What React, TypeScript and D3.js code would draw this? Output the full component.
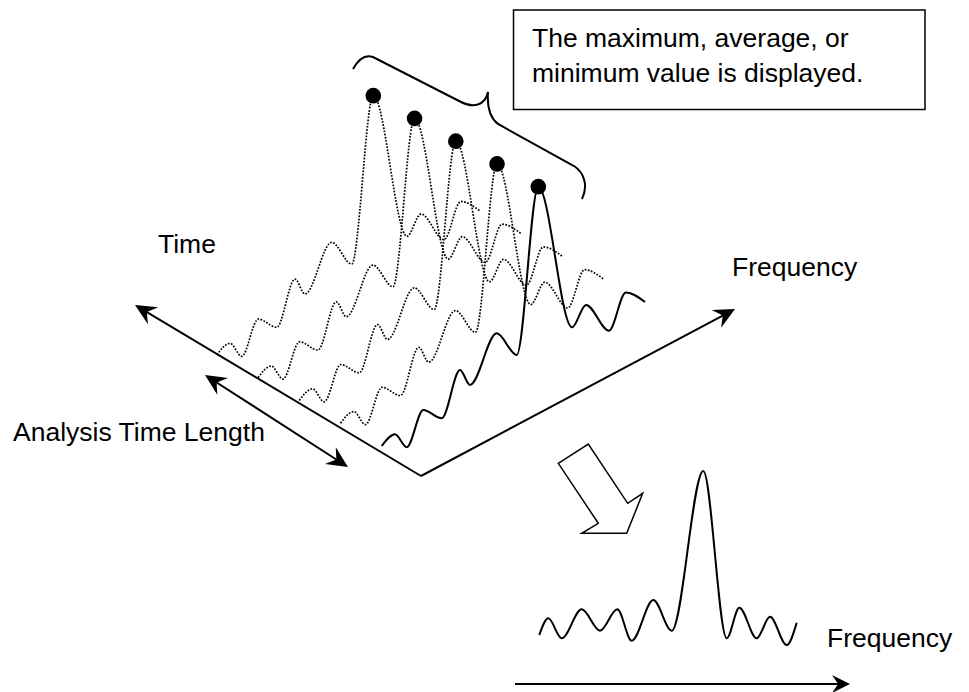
import { curveMonotoneX, line as d3Line, scaleLinear, maxIndex } from "d3"

// one analysis frame (same shape repeated along the time axis)
const frameFreq = [0, 1.33, 2.5, 4.16, 6.0, 7.83, 8.83, 11.5, 13.5, 15.66, 19.03, 20.43, 22.73, 24.41, 26.33]
const frameLevel = [1.6, 2.04, 0.11, 2.93, 1.1, 4.93, 2.89, 6.6, 3.34, 19.0, 3.1, 4.57, 0.74, 3.65, 1.65]
const frameTimes = [4, 3, 2, 1, 0] // back to front, 0 = latest (solid)

// displayed result spectrum
const resultFreq = [0, 0.9, 2.24, 4.24, 6.07, 7.8, 9.24, 11.4, 13.24, 16.4, 18.74, 20.0, 21.74, 23.07, 24.74, 25.74]
const resultLevel = [1.0, 2.67, 0.67, 3.57, 1.43, 3.57, 0.43, 4.5, 1.43, 17.4, 0.67, 3.73, 0.67, 2.83, 0, 2.23]

const W = 969
const H = 692
const font = "'Liberation Sans', Arial, Helvetica, sans-serif"

// waterfall projection
const fx = scaleLinear().domain([0, 26.33]).range([381.7, 645])
const fBase = scaleLinear().domain([0, 26.33]).range([462, 318.5])
const lvl = scaleLinear().domain([0, 19]).range([0, 190])
const tx = scaleLinear().domain([0, 4]).range([0, -165])
const ty = scaleLinear().domain([0, 4]).range([0, -91])

// result spectrum
const rx = scaleLinear().domain([0, 25.74]).range([539.3, 796.7])
const ry = scaleLinear().domain([0, 17.4]).range([645, 471])

const origin = { x: 421, y: 476 }

function arrowHead(x1: number, y1: number, x2: number, y2: number, len = 21, half = 10, notch = 14) {
  const dx = x2 - x1
  const dy = y2 - y1
  const L = Math.hypot(dx, dy)
  const ux = dx / L
  const uy = dy / L
  const px = -uy
  const py = ux
  const bx = x2 - ux * len
  const by = y2 - uy * len
  const nx = x2 - ux * notch
  const ny = y2 - uy * notch
  return {
    head: `M${x2},${y2}L${bx + px * half},${by + py * half}L${nx},${ny}L${bx - px * half},${by - py * half}Z`,
    nx,
    ny,
  }
}

function Arrow({ x1, y1, x2, y2, both = false, len = 21, half = 10 }: { x1: number; y1: number; x2: number; y2: number; both?: boolean; len?: number; half?: number }) {
  const end = arrowHead(x1, y1, x2, y2, len, half, len * 0.66)
  const start = both ? arrowHead(x2, y2, x1, y1, len, half, len * 0.66) : null
  return (
    <g>
      <line x1={start ? start.nx : x1} y1={start ? start.ny : y1} x2={end.nx} y2={end.ny} stroke="#000" strokeWidth={2} />
      <path d={end.head} fill="#000" />
      {start && <path d={start.head} fill="#000" />}
    </g>
  )
}

export default function App() {
  const framePts = frameFreq.map((f, i) => ({ f, l: frameLevel[i] }))
  const peakIdx = maxIndex(frameLevel)

  const frameLine = (t: number) =>
    d3Line<{ f: number; l: number }>()
      .x((d) => fx(d.f) + tx(t))
      .y((d) => fBase(d.f) - lvl(d.l) + ty(t))
      .curve(curveMonotoneX)(framePts) ?? ""

  const resultPath =
    d3Line<number>()
      .x((d) => rx(d))
      .y((_, i) => ry(resultLevel[i]))
      .curve(curveMonotoneX)(resultFreq) ?? ""

  const textProps = { fontFamily: font, fontSize: 26.5, fill: "#000" }

  return (
    <svg width={W} height={H} viewBox={`0 0 ${W} ${H}`} style={{ position: "absolute", left: 0, top: 0, background: "#fff" }}>
      <rect width={W} height={H} fill="#fff" />

      {/* note box */}
      <rect x={513.5} y={10} width={411.5} height={99.5} fill="#fff" stroke="#000" strokeWidth={1.5} />
      <text x={532} y={47} {...textProps}>The maximum, average, or</text>
      <text x={532} y={82} {...textProps}>minimum value is displayed.</text>

      {/* brace */}
      <path
        d="M353,69 C358,60 364,54 373,57 L461,102 C473,108 485,106 488,92 C487,106 489,117 498,124 L574,166 C585,173 588,187 582,199"
        fill="none"
        stroke="#000"
        strokeWidth={2}
      />

      {/* axes */}
      <Arrow x1={origin.x} y1={origin.y} x2={135} y2={305} />
      <Arrow x1={origin.x} y1={origin.y} x2={735} y2={309} />
      <Arrow x1={205} y1={375} x2={348} y2={467} both />

      <text x={158} y={253} {...textProps}>Time</text>
      <text x={732} y={276} {...textProps}>Frequency</text>
      <text x={13} y={441} {...textProps}>Analysis Time Length</text>

      {/* waterfall traces */}
      {frameTimes.map((t) => (
        <path
          key={t}
          d={frameLine(t)}
          fill="none"
          stroke="#000"
          strokeWidth={t === 0 ? 2 : 1.7}
          strokeDasharray={t === 0 ? undefined : "1.7 1.5"}
        />
      ))}
      {frameTimes.map((t) => (
        <circle key={`p${t}`} cx={fx(frameFreq[peakIdx]) + tx(t)} cy={fBase(frameFreq[peakIdx]) - lvl(frameLevel[peakIdx]) + ty(t)} r={7.8} fill="#000" />
      ))}

      {/* block arrow */}
      <path
        d="M558.3,463.3 L588.3,444 L627.7,503.3 L642.7,493.3 L626.7,533.3 L581.7,533.3 L598.3,523.3 Z"
        fill="#fff"
        stroke="#000"
        strokeWidth={1.5}
        strokeLinejoin="miter"
      />

      {/* result spectrum */}
      <path d={resultPath} fill="none" stroke="#000" strokeWidth={2} />
      <text x={827} y={647} {...textProps}>Frequency</text>
      <Arrow x1={515} y1={684} x2={850} y2={684} len={18} half={9} />
    </svg>
  )
}
